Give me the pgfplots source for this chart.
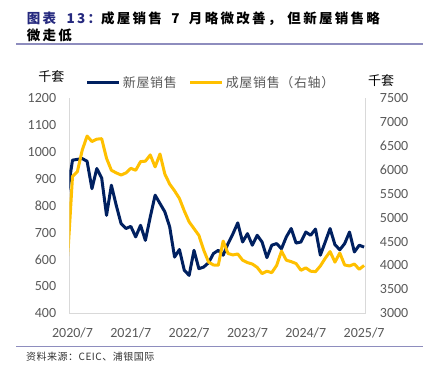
\documentclass[border=0pt]{standalone}
\usepackage{fontspec}
\setmainfont{Carlito}
\newfontfamily\cjk{Noto Sans CJK SC}
\newfontfamily\cjktitle[LetterSpace=17]{Noto Sans CJK SC}
\newfontfamily\cjkleg[LetterSpace=5]{Noto Sans CJK SC}
\usepackage{pgfplots}
\usepackage{pgfplotstable}
\pgfplotsset{compat=1.18}
\definecolor{navy}{HTML}{002060}
\definecolor{gold}{HTML}{FFC000}
\definecolor{tickgrey}{HTML}{595959}
\definecolor{axgrey}{HTML}{D9D9D9}
\definecolor{titleblue}{HTML}{25297E}
\definecolor{rulec}{HTML}{8E8DBE}

% new home sales (thousand units, SAAR); j=0 is 2020/7
\pgfplotstableread{
j v
-1 850
0 969
1 972
2 975
3 965
4 863
5 938
6 903
7 764
8 876
9 801
10 733
11 715
12 723
13 684
14 727
15 671
16 758
17 839
18 808
19 777
20 721
21 609
22 637
23 560
24 541
25 634
26 566
27 572
28 588
29 622
30 634
31 616
32 659
33 695
34 736
35 665
36 696
37 653
38 690
39 665
40 607
41 653
42 659
43 640
44 684
45 715
46 661
47 665
48 702
49 690
50 713
51 616
52 665
53 715
54 655
55 636
56 659
57 702
58 628
59 653
60 646
}\newtab

% existing home sales (thousand units, SAAR, right axis)
\pgfplotstableread{
j v
-1 4160
0 5860
1 5960
2 6410
3 6705
4 6590
5 6640
6 6650
7 6240
8 5990
9 5935
10 5890
11 5935
12 6030
13 5990
14 6170
15 6180
16 6310
17 6060
18 6330
19 5910
20 5700
21 5560
22 5400
23 5140
24 4910
25 4770
26 4630
27 4320
28 4070
29 4010
30 4005
31 4510
32 4250
33 4220
34 4240
35 4110
36 4060
37 4030
38 3960
39 3830
40 3880
41 3850
42 4000
43 4300
44 4110
45 4080
46 4040
47 3900
48 3950
49 3880
50 3870
51 3990
52 4150
53 4290
54 4070
55 4260
56 4010
57 3990
58 4030
59 3920
60 4000
}\existtab

\pgfplotsset{
  common/.style={
    scale only axis,
    width=296.4bp, height=215.3bp,
    at={(69.3bp,-313.3bp)}, anchor=south west,
    xmin=-0.66, xmax=60.33,
    xtick={0,12,24,36,48,60},
    xticklabels={2020/7,2021/7,2022/7,2023/7,2024/7,2025/7},
    major tick length=0pt,
    axis line style={draw=axgrey, line width=0.9bp, -},
    tick label style={font=\fontsize{14bp}{14bp}\selectfont, text=tickgrey},
    /pgf/number format/.cd, 1000 sep={}, assume math mode=true, /pgfplots/.cd,
    enlargelimits=false,
  }
}

\begin{document}
\begin{tikzpicture}
\path[use as bounding box] (0bp,0bp) rectangle (423bp,-376bp);

% title
\node[anchor=base west, inner sep=0pt] at (26.7bp,-23.2bp)
  {\cjktitle\bfseries\fontsize{13.5bp}{15bp}\selectfont{\color{titleblue}图表\hspace{5bp} 13：}成屋销售\hspace{4bp} 7\hspace{4bp} 月略微改善，\hspace{6bp}但新屋销售略};
\node[anchor=base west, inner sep=0pt] at (26.7bp,-40.7bp)
  {\cjktitle\bfseries\fontsize{13.5bp}{15bp}\selectfont 微走低};
\draw[rulec, line width=1.5bp] (16bp,-43.8bp) -- (423bp,-43.8bp);
\draw[rulec, line width=1.5bp] (16bp,-346.7bp) -- (423bp,-346.7bp);
\node[anchor=west, inner sep=0pt, text=black!80] at (26bp,-356.7bp)
  {\cjkleg\fontsize{10bp}{10bp}\selectfont 资料来源：CEIC、浦银国际};

% unit labels
\node[inner sep=0pt] at (51.3bp,-76.7bp) {\cjk\fontsize{13bp}{13bp}\selectfont 千套};
\node[inner sep=0pt] at (381bp,-80.7bp) {\cjk\fontsize{13bp}{13bp}\selectfont 千套};

\begin{axis}[common,
  ymin=400, ymax=1200, ytick={400,500,...,1200},
  axis x line*=bottom, axis y line*=left,
  yticklabel style={anchor=east, inner sep=0pt, xshift=-13bp},
  xticklabel style={anchor=north, inner sep=0pt, yshift=-14bp},
]
\addplot[navy, line width=3bp, line join=round] table[x=j, y=v] {\newtab};
\end{axis}

\begin{axis}[common,
  ymin=3000, ymax=7500, ytick={3000,3500,...,7500},
  axis x line=none, axis y line*=right,
  yticklabel style={anchor=west, inner sep=0pt, xshift=14bp},
  legend style={at={(0.056,1.071)}, anchor=west, draw=none, fill=none,
    inner sep=0pt, outer sep=0pt,
    font=\cjkleg\fontsize{13bp}{13bp}\selectfont, text=tickgrey,
    /tikz/every even column/.append style={column sep=10bp}},
  legend columns=-1,
  legend image code/.code={\draw[#1] (0bp,0bp) -- (32bp,0bp);},
]
\addlegendimage{navy, line width=3bp}
\addlegendentry{新屋销售}
\addplot[gold, line width=3bp, line join=round] table[x=j, y=v] {\existtab};
\addlegendentry{成屋销售（右轴）}
\end{axis}
\end{tikzpicture}
\end{document}
